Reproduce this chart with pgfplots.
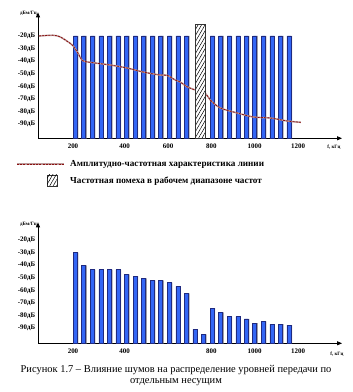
\documentclass[border=0pt]{standalone}
\usepackage{fontspec}
\setmainfont{Liberation Serif}
\usepackage{pgfplots}
\pgfplotsset{compat=1.18}
\usetikzlibrary{patterns,patterns.meta,arrows.meta}
\definecolor{barblue}{HTML}{3366F5}
\definecolor{baredge}{HTML}{1F2A80}
\definecolor{barshadow}{HTML}{A0A0A8}
\definecolor{curvered}{HTML}{8B1010}
\definecolor{curveshade}{HTML}{BC9A9A}
\pgfplotsset{
  chartbase/.style={
    x=0.2167bp, y=1.26bp,
    xmin=0, xmax=1403, ymin=0,
    axis x line=bottom, axis y line=left,
    axis line style={line width=0.8bp, -{Triangle[length=5bp,width=4bp]}},
    tick style={draw=none},
    major tick length=0pt,
    tick label style={font=\fontsize{7}{8}\selectfont\bfseries},
    yticklabel style={anchor=east, inner sep=0pt, xshift=-2.5bp},
    xticklabel style={anchor=north, inner sep=0pt, yshift=-5bp},
    clip=false,
  },
  mainbar/.style={ybar, bar width=4bp, bar shift=0pt, fill=barblue, draw=baredge, line width=0.5bp},
  shadowbar/.style={ybar, bar width=4bp, bar shift=1.1bp, fill=barshadow, draw=none},
}
\pgfplotstableread{
x y
172 -20
211 -20
251 -20
290 -20
330 -20
369 -20
409 -20
448 -20
488 -20
527 -20
566 -20
606 -20
645 -20
685 -20
803 -20
843 -20
882 -20
922 -20
961 -20
1000 -20
1040 -20
1079 -20
1119 -20
1158 -20
}\topbars
\pgfplotstableread{
x y
172 -30.1
211 -40.1
251 -43.6
290 -43.6
330 -43.6
369 -43.6
409 -47.2
448 -48.6
488 -50.4
527 -52.0
566 -52.0
606 -53.9
645 -56.9
685 -62.3
724 -90.9
764 -94.9
803 -74.0
843 -77.4
882 -80.9
922 -80.9
961 -82.7
1000 -85.9
1040 -84.5
1079 -86.7
1119 -86.7
1158 -87.5
}\bottombars
\pgfplotstableread{
x y
4 -20.0
68 -19.4
101 -20.6
133 -24.0
160 -27.5
184 -33.5
207 -39.6
254 -41.2
332 -43.0
411 -45.4
485 -48.6
564 -51.0
596 -51.2
633 -54.9
656 -56.5
687 -60.2
726 -62.9
772 -65.5
795 -70.8
841 -77.1
919 -81.1
994 -84.3
1073 -85.1
1151 -87.5
1213 -88.5
}\curve
\begin{document}
\begin{tikzpicture}[x=1bp,y=1bp]
\useasboundingbox (0,0) rectangle (353,392);
% ---------- top chart ----------
\begin{axis}[chartbase,
  at={(38bp,253.7bp)}, anchor=south west,
  ymax=100,
  y filter/.expression={y+101.2},
  xtick={161.5,400,600,800,1000,1200},
  xticklabels={200,400,600,800,1000,1200},
  ytick={11.2,21.2,31.2,41.2,51.2,61.2,71.2,81.2},
  yticklabels={-90дБ,-80дБ,-70дБ,-60дБ,-50дБ,-40дБ,-30дБ,-20дБ},
]
\addplot[shadowbar] table[x=x,y=y]{\topbars};
\addplot[mainbar] table[x=x,y=y]{\topbars};
\addplot[curveshade, line width=1.5bp, smooth, tension=0.5] table[x=x,y=y]{\curve};
\addplot[curvered, line width=0.8bp, smooth, tension=0.5, dash pattern=on 2bp off 1.2bp] table[x=x,y=y]{\curve};
\addplot[ybar, bar width=10bp, bar shift=0pt, fill=white, draw=black!80, line width=0.6bp,
  postaction={pattern={Lines[angle=60,distance=3bp,line width=0.5bp]}, pattern color=black}] coordinates {(747.6,-10.5)};
\end{axis}
\node[anchor=east, inner sep=0pt, font=\fontsize{5}{6}\selectfont\bfseries] at (37,379) {дБм/Гц};
\node[inner sep=0pt, font=\fontsize{5}{6}\selectfont\bfseries] at (334,245) {f, кГц};
% ---------- legend ----------
\draw[curveshade, line width=1.3bp] (17,228) -- (64,228);
\draw[curvered, line width=0.8bp, dash pattern=on 2bp off 1.2bp] (17,228) -- (64,228);
\node[anchor=west, inner sep=0pt, font=\fontsize{9.2}{10}\selectfont\bfseries] at (70,228) {Амплитудно-частотная характеристика линии};
\draw[fill=white, draw=black!80, line width=0.5bp, postaction={pattern={Lines[angle=60,distance=3bp,line width=0.5bp]}}] (47,206) rectangle (57,217);
\node[anchor=west, inner sep=0pt, font=\fontsize{9.2}{10}\selectfont\bfseries] at (70,211.3) {Частотная помеха в рабочем диапазоне частот};
% ---------- bottom chart ----------
\begin{axis}[chartbase,
  at={(38bp,48.7bp)}, anchor=south west,
  ymax=96,
  y filter/.expression={y+102},
  xtick={161.5,400,800,1000,1200},
  xticklabels={200,400,800,1000,1200},
  ytick={12,22,32,42,52,62,72,82},
  yticklabels={-90дБ,-80дБ,-70дБ,-60дБ,-50дБ,-40дБ,-30дБ,-20дБ},
]
\addplot[shadowbar] table[x=x,y=y]{\bottombars};
\addplot[mainbar] table[x=x,y=y]{\bottombars};
\end{axis}
\node[anchor=east, inner sep=0pt, font=\fontsize{5}{6}\selectfont\bfseries] at (37,168) {дБм/Гц};
\node[inner sep=0pt, font=\fontsize{5}{6}\selectfont\bfseries] at (337,38) {f, кГц};
% ---------- caption ----------
\node[inner sep=0pt, font=\fontsize{10.5}{12}\selectfont] at (176,22) {Рисунок 1.7 – Влияние шумов на распределение уровней передачи по};
\node[inner sep=0pt, font=\fontsize{10.5}{12}\selectfont] at (176,10) {отдельным несущим};
\end{tikzpicture}
\end{document}
